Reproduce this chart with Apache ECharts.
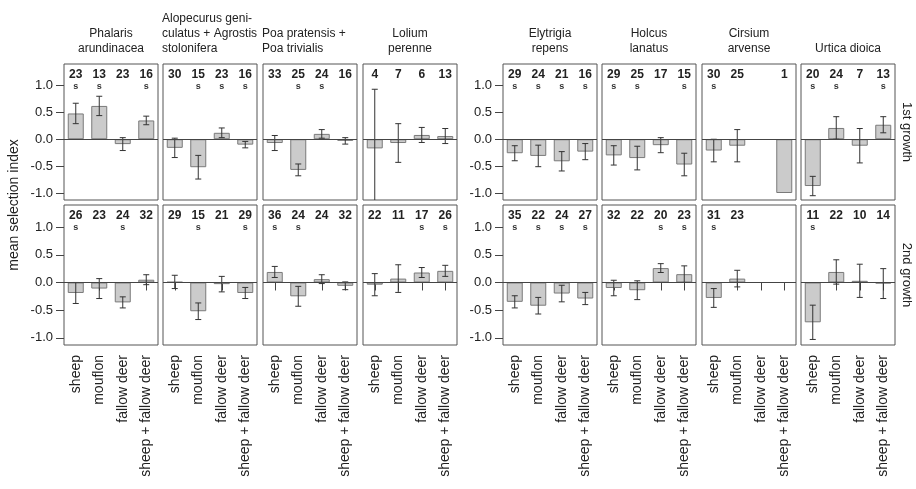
<!DOCTYPE html>
<html>
<head>
<meta charset="utf-8">
<script src="https://cdn.jsdelivr.net/npm/echarts@6/dist/echarts.min.js"></script>
<style>
  html, body { margin: 0; padding: 0; background: #fff; }
  #chart { width: 916px; height: 489px; }
</style>
</head>
<body>
<div id="chart"></div>
<script>
// Herbivore groups on the category axis of every panel
const categories = ['sheep', 'mouflon', 'fallow deer', 'sheep + fallow deer'];

// Plant taxa, one column of panels each
const speciesTitles = [
  'Phalaris\narundinacea',
  'Alopecurus geni-\nculatus + Agrostis\nstolonifera',
  'Poa pratensis +\nPoa trivialis',
  'Lolium\nperenne',
  'Elytrigia\nrepens',
  'Holcus\nlanatus',
  'Cirsium\narvense',
  'Urtica dioica'
];

const growthLabels = ['1st growth', '2nd growth'];
const yTickValues = [-1, -0.5, 0, 0.5, 1];

// 1st growth: mean selection index, error (+/-), sample size, significance flag
const mean1st = [
  [0.48, 0.62, -0.09, 0.35],
  [-0.16, -0.52, 0.12, -0.10],
  [-0.07, -0.57, 0.10, -0.03],
  [-0.17, -0.07, 0.08, 0.06],
  [-0.26, -0.31, -0.41, -0.23],
  [-0.30, -0.35, -0.11, -0.47],
  [-0.21, -0.12, null, -1.00],
  [-0.87, 0.21, -0.12, 0.27]
];
const err1st = [
  [0.19, 0.18, 0.12, 0.08],
  [0.18, 0.22, 0.09, 0.06],
  [0.14, 0.11, 0.08, 0.06],
  [1.10, 0.36, 0.14, 0.14],
  [0.14, 0.20, 0.18, 0.15],
  [0.18, 0.22, 0.14, 0.21],
  [0.21, 0.30, null, null],
  [0.18, 0.21, 0.32, 0.15]
];
const n1st = [
  [23, 13, 23, 16],
  [30, 15, 23, 16],
  [33, 25, 24, 16],
  [4, 7, 6, 13],
  [29, 24, 21, 16],
  [29, 25, 17, 15],
  [30, 25, null, 1],
  [20, 24, 7, 13]
];
const sig1st = [
  [1, 1, 0, 1],
  [0, 1, 1, 1],
  [0, 1, 1, 0],
  [0, 0, 0, 0],
  [1, 1, 1, 1],
  [1, 1, 0, 1],
  [1, 0, 0, 0],
  [1, 1, 0, 1]
];

// 2nd growth
const mean2nd = [
  [-0.19, -0.11, -0.36, 0.05],
  [0.01, -0.52, -0.03, -0.19],
  [0.19, -0.25, 0.06, -0.06],
  [-0.04, 0.07, 0.18, 0.21],
  [-0.35, -0.42, -0.20, -0.29],
  [-0.10, -0.14, 0.26, 0.15],
  [-0.28, 0.07, null, null],
  [-0.72, 0.19, 0.03, -0.02]
];
const err2nd = [
  [0.19, 0.18, 0.10, 0.09],
  [0.12, 0.15, 0.14, 0.10],
  [0.10, 0.18, 0.08, 0.07],
  [0.20, 0.25, 0.09, 0.10],
  [0.11, 0.15, 0.15, 0.11],
  [0.14, 0.17, 0.08, 0.15],
  [0.17, 0.15, null, null],
  [0.31, 0.22, 0.30, 0.27]
];
const n2nd = [
  [26, 23, 24, 32],
  [29, 15, 21, 29],
  [36, 24, 24, 32],
  [22, 11, 17, 26],
  [35, 22, 24, 27],
  [32, 22, 20, 23],
  [31, 23, null, null],
  [11, 22, 10, 14]
];
const sig2nd = [
  [1, 0, 1, 0],
  [0, 1, 0, 1],
  [1, 1, 0, 0],
  [0, 0, 1, 1],
  [1, 1, 1, 1],
  [0, 0, 1, 1],
  [1, 0, 0, 0],
  [1, 0, 0, 0]
];

const rows = [
  { mean: mean1st, err: err1st, n: n1st, sig: sig1st },
  { mean: mean2nd, err: err2nd, n: n2nd, sig: sig2nd }
];

// Panel layout
const FONT = "'Liberation Sans', Arial, sans-serif";
const Y_MIN = -1.13, Y_MAX = 1.4;
const COUNT_Y = 1.21, SIG_Y = 0.99;
const colLefts = [64, 163, 263, 363, 503, 602, 702, 801];
const panelWidth = 94;
const rowTops = [64, 205];
const rowHeights = [136, 140];
const axisCols = [0, 4];

const grids = [], xAxes = [], yAxes = [], series = [];

rows.forEach((row, r) => {
  colLefts.forEach((left, c) => {
    const gi = grids.length;
    const showY = axisCols.includes(c);
    const bottomRow = r === 1;
    grids.push({
      left: left, top: rowTops[r], width: panelWidth, height: rowHeights[r],
      show: true, borderColor: '#555', borderWidth: 1, backgroundColor: '#fff'
    });
    xAxes.push({
      type: 'category', gridIndex: gi, data: categories, boundaryGap: true,
      axisLine: { show: false },
      axisTick: { show: bottomRow, alignWithLabel: true, length: 8, lineStyle: { color: '#444' } },
      axisLabel: {
        show: bottomRow, rotate: 90, interval: 0, margin: 10,
        fontSize: 14, fontFamily: FONT, color: '#222'
      },
      splitLine: { show: false }
    });
    yAxes.push({
      type: 'value', gridIndex: gi, min: Y_MIN, max: Y_MAX,
      splitLine: { show: false },
      axisLine: { show: false },
      axisTick: { show: showY, customValues: yTickValues, length: 8, lineStyle: { color: '#444' } },
      axisLabel: {
        show: showY, customValues: yTickValues, margin: 11,
        fontSize: 13, fontFamily: FONT, color: '#222',
        formatter: v => v.toFixed(1)
      }
    });

    const means = row.mean[c], errs = row.err[c], ns = row.n[c], sigs = row.sig[c];

    // bars with a zero reference line
    series.push({
      type: 'bar', xAxisIndex: gi, yAxisIndex: gi,
      data: means, barWidth: 16, z: 2,
      itemStyle: { color: '#cbcbcb', borderColor: '#7a7a7a', borderWidth: 1 },
      markLine: {
        silent: true, symbol: 'none', animation: false,
        label: { show: false },
        lineStyle: { color: '#444', width: 1, type: 'solid' },
        data: [{ yAxis: 0 }]
      }
    });

    // error bars, clipped to the panel
    const errData = [];
    means.forEach((m, k) => {
      const e = errs[k];
      if (m == null || e == null) return;
      const lo = m - e, hi = m + e;
      errData.push([k, Math.max(lo, Y_MIN), Math.min(hi, Y_MAX), lo < Y_MIN ? 1 : 0, hi > Y_MAX ? 1 : 0]);
    });
    series.push({
      type: 'custom', xAxisIndex: gi, yAxisIndex: gi, z: 4,
      data: errData,
      renderItem: (params, api) => {
        const x = api.value(0);
        const top = api.coord([x, api.value(2)]);
        const bot = api.coord([x, api.value(1)]);
        const st = { stroke: '#333', lineWidth: 1 };
        const children = [
          { type: 'line', shape: { x1: top[0], y1: top[1], x2: bot[0], y2: bot[1] }, style: st }
        ];
        if (!api.value(4)) children.push({ type: 'line', shape: { x1: top[0] - 3, y1: top[1], x2: top[0] + 3, y2: top[1] }, style: st });
        if (!api.value(3)) children.push({ type: 'line', shape: { x1: bot[0] - 3, y1: bot[1], x2: bot[0] + 3, y2: bot[1] }, style: st });
        return { type: 'group', children: children };
      }
    });

    // sample sizes and significance marks
    const labelData = [];
    ns.forEach((n, k) => {
      if (n == null) return;
      labelData.push([k, n, sigs[k]]);
    });
    series.push({
      type: 'custom', xAxisIndex: gi, yAxisIndex: gi, z: 5,
      data: labelData,
      renderItem: (params, api) => {
        const x = api.value(0);
        const pn = api.coord([x, COUNT_Y]);
        const ps = api.coord([x, SIG_Y]);
        const children = [{
          type: 'text', x: pn[0], y: pn[1],
          style: {
            text: String(api.value(1)), textAlign: 'center', textVerticalAlign: 'middle',
            font: 'bold 12px ' + FONT, fill: '#222'
          }
        }];
        if (api.value(2)) {
          children.push({
            type: 'text', x: ps[0], y: ps[1],
            style: {
              text: 's', textAlign: 'center', textVerticalAlign: 'middle',
              font: 'bold 9px ' + FONT, fill: '#333'
            }
          });
        }
        return { type: 'group', children: children };
      }
    });
  });
});

// panel headings
const titles = speciesTitles.map((t, c) => {
  const lines = t.split('\n').length;
  const leftAligned = c === 1 || c === 2;
  return {
    text: t,
    left: leftAligned ? colLefts[c] - 1 : colLefts[c] + panelWidth / 2,
    top: 49 - 7.5 - 15 * (lines - 1),
    textAlign: leftAligned ? 'left' : 'center',
    padding: 0,
    textStyle: { fontSize: 12, fontWeight: 'normal', fontFamily: FONT, color: '#222', lineHeight: 15 }
  };
});

const chart = echarts.init(document.getElementById('chart'), null, { renderer: 'canvas' });
chart.setOption({
  animation: false,
  backgroundColor: '#fff',
  title: titles,
  grid: grids,
  xAxis: xAxes,
  yAxis: yAxes,
  series: series,
  graphic: [
    {
      type: 'text', x: 14, y: 205, rotation: Math.PI / 2,
      style: { text: 'mean selection index', textAlign: 'center', textVerticalAlign: 'middle', font: '14px ' + FONT, fill: '#222' }
    },
    {
      type: 'text', x: 907, y: rowTops[0] + rowHeights[0] / 2, rotation: -Math.PI / 2,
      style: { text: growthLabels[0], textAlign: 'center', textVerticalAlign: 'middle', font: '13px ' + FONT, fill: '#222' }
    },
    {
      type: 'text', x: 907, y: rowTops[1] + rowHeights[1] / 2, rotation: -Math.PI / 2,
      style: { text: growthLabels[1], textAlign: 'center', textVerticalAlign: 'middle', font: '13px ' + FONT, fill: '#222' }
    }
  ]
});
</script>
</body>
</html>
